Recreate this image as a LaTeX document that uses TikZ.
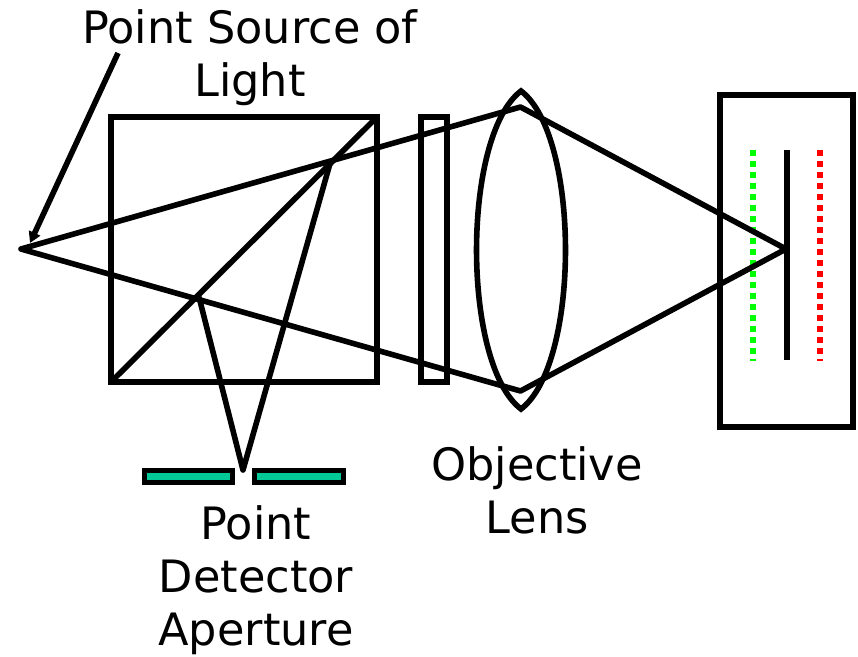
\documentclass[tikz,border=0pt]{standalone}
\usepackage{fontspec}
\setmainfont{DejaVu Sans}
\usetikzlibrary{arrows.meta}
\definecolor{apgreen}{RGB}{0,200,150}
\tikzset{
  optic/.style={draw=black,line width=5.6pt,line join=miter},
  ray/.style={draw=black,line width=5.6pt,line join=round},
  plane/.style={line width=6pt,dash pattern=on 6pt off 5pt},
  slab/.style={draw=black,line width=5.6pt,fill=apgreen,inner sep=0pt},
  lbl/.style={font=\fontsize{44.6}{53}\selectfont,align=center,inner sep=0pt,text=black}
}
\begin{document}
\begin{tikzpicture}[x=1pt,y=-1pt]
\useasboundingbox (0,0) rectangle (858,656);
% key points
\coordinate (src) at (21,249);
\coordinate (lt) at (520.5,107);
\coordinate (lb) at (520.5,391);
\coordinate (foc) at (786,249);
\coordinate (rt) at (331,160);
\coordinate (rb) at (199,297);
\coordinate (det) at (243,470);
\coordinate (dl) at (111,382);
\coordinate (dr) at (377,117);
\coordinate (atail) at (118,53);
\coordinate (atip) at (30,243);
\coordinate (ltop) at (521,91);
\coordinate (lbot) at (521,409);
% optics
\node[optic,minimum width=266pt,minimum height=265pt,inner sep=0pt] (cube) at (244,249.5) {};
\draw[optic] (dl) -- (dr);
\node[optic,minimum width=26pt,minimum height=265pt,inner sep=0pt] (filter) at (434,249.5) {};
\draw[optic] (ltop) .. controls (461.7,136) and (461.7,364) .. (lbot)
  .. controls (580.3,364) and (580.3,136) .. cycle;
\node[optic,minimum width=133pt,minimum height=332pt,inner sep=0pt] (sample) at (786.5,261) {};
% sample planes
\draw[plane,draw=green] (752.5,150) -- (752.5,361);
\draw[plane,draw=red] (820,150) -- (820,361);
\draw[draw=black,line width=6pt] (786.5,150) -- (786.5,360);
% rays
\draw[ray] (src) -- (lt) -- (foc) -- (lb) -- cycle;
\draw[ray] (rb) -- (det) -- (rt);
% aperture
\node[slab,minimum width=88pt,minimum height=12pt] (apl) at (188.5,476.5) {};
\node[slab,minimum width=89pt,minimum height=12pt] (apr) at (299,476.5) {};
% labelling arrow
\draw[line width=5.6pt,-{Triangle[width=12pt,length=11pt]}] (atail) -- (atip);
% labels
\node[lbl] (tsrc) at (250,58) {Point Source of\\Light};
\node[lbl] (tobj) at (537,490) {Objective\\Lens};
\node[lbl] (tdet) at (256,580.5) {Point\\Detector\\Aperture};
\end{tikzpicture}
\end{document}
